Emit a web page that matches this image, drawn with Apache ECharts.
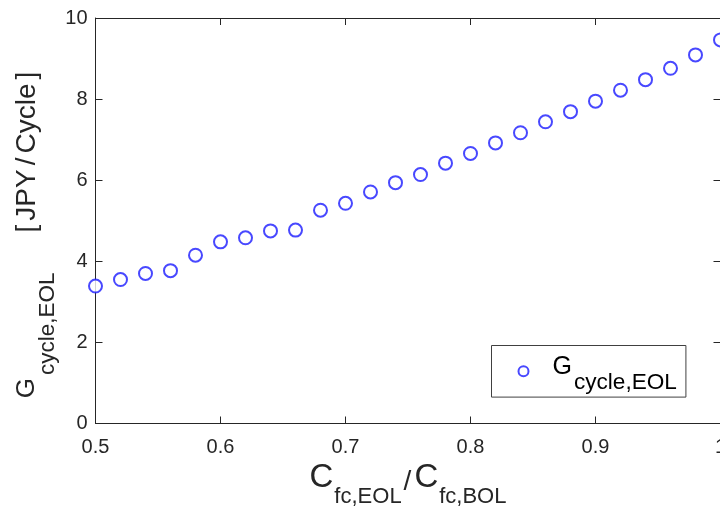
<!DOCTYPE html>
<html>
<head>
<meta charset="utf-8">
<script src="https://cdn.jsdelivr.net/npm/echarts@6/dist/echarts.min.js"></script>
<style>html,body{margin:0;padding:0;background:#fff;}#c{width:720px;height:506px;}</style>
</head>
<body>
<div id="c"></div>
<script>
// ---- data ----
var ratioValues = [0.50, 0.52, 0.54, 0.56, 0.58, 0.60, 0.62, 0.64, 0.66, 0.68, 0.70, 0.72, 0.74,
                   0.76, 0.78, 0.80, 0.82, 0.84, 0.86, 0.88, 0.90, 0.92, 0.94, 0.96, 0.98, 1.00];
var gCycleEOL = [3.39, 3.55, 3.70, 3.77, 4.15, 4.48, 4.58, 4.75, 4.77, 5.26, 5.43, 5.71, 5.94,
                 6.14, 6.42, 6.66, 6.92, 7.17, 7.44, 7.69, 7.95, 8.22, 8.48, 8.76, 9.09, 9.46];
var xTickLabels = ['0.5', '0.6', '0.7', '0.8', '0.9', '1'];
var yTickLabels = ['0', '2', '4', '6', '8', '10'];
var seriesName = 'G_cycle,EOL';

var FONT = 'Liberation Sans, Arial, sans-serif';
var INK = '#262626';

var points = ratioValues.map(function (x, i) { return [x, gCycleEOL[i]]; });

var chart = echarts.init(document.getElementById('c'), null, {renderer: 'canvas'});

function axisCommon(extra) {
  var base = {
    axisLine: {show: true, onZero: false, lineStyle: {color: INK, width: 1}},
    axisTick: {show: true, inside: true, length: 7, lineStyle: {color: INK, width: 1}},
    splitLine: {show: false},
    axisLabel: {show: false}
  };
  for (var k in extra) base[k] = extra[k];
  return base;
}

var option = {
  backgroundColor: '#ffffff',
  animation: false,
  grid: {left: 95.5, right: -0.5, top: 18, bottom: 82.5, containLabel: false, outerBoundsMode: 'none'},
  xAxis: [
    axisCommon({type: 'value', position: 'bottom', min: 0.5, max: 1.0, interval: 0.1,
      axisLabel: {show: true, margin: 14, color: INK, fontSize: 20, fontFamily: FONT,
        formatter: function (v) { var i = Math.round((v - 0.5) / 0.1); return xTickLabels[i]; }}}),
    axisCommon({type: 'value', position: 'top', min: 0.5, max: 1.0, interval: 0.1})
  ],
  yAxis: [
    axisCommon({type: 'value', position: 'left', min: 0, max: 10, interval: 2,
      axisLabel: {show: true, margin: 8, color: INK, fontSize: 20, fontFamily: FONT,
        formatter: function (v) { return yTickLabels[Math.round(v / 2)]; }}}),
    axisCommon({type: 'value', position: 'right', min: 0, max: 10, interval: 2})
  ],
  legend: {
    show: true,
    left: 491.5, top: 345.5,
    orient: 'vertical',
    backgroundColor: '#ffffff',
    borderColor: '#404040', borderWidth: 1, borderRadius: 0,
    padding: [0, 9, 0, 26],
    itemWidth: 10, itemHeight: 10,
    icon: 'emptyCircle',
    data: [{name: seriesName, icon: 'emptyCircle'}],
    formatter: function () { return '{g|G}{s|cycle,EOL}'; },
    textStyle: {
      color: '#000',
      fontFamily: FONT,
      lineHeight: 51.6,
      rich: {
        g: {fontSize: 25, lineHeight: 51.6, fontFamily: FONT, color: '#000', padding: [0, 0, 9, 19]},
        s: {fontSize: 22.6, lineHeight: 51.6, fontFamily: FONT, color: '#000', padding: [23, 0, 0, 2]}
      }
    }
  },
  series: [{
    name: seriesName,
    type: 'scatter',
    xAxisIndex: 0, yAxisIndex: 0,
    symbol: 'emptyCircle',
    symbolSize: 13,
    itemStyle: {color: '#1a1aff', borderColor: '#1a1aff', borderWidth: 1},
    emphasis: {disabled: true},
    data: points,
    clip: false
  }],
  graphic: [
    {
      type: 'text', x: 408, y: 489,
      style: {
        text: '{c|C}{s|fc,EOL}{sl|/}{c|C}{s|fc,BOL}',
        textAlign: 'center', verticalAlign: 'middle',
        fill: INK, fontFamily: FONT,
        rich: {
          c: {fontSize: 33, fontFamily: FONT, fill: INK, padding: [0, 0, 22, 0]},
          s: {fontSize: 22, fontFamily: FONT, fill: INK, padding: [16, 0, 0, 1]},
          sl: {fontSize: 28, fontFamily: FONT, fill: INK, padding: [0, 3, 14, 2]}
        }
      }
    },
    {
      type: 'text', x: 37.5, y: 235, rotation: Math.PI / 2,
      style: {
        text: '{g|G}{s|cycle,EOL}{b1|[}{n|JPY}{n|/}{n|Cycle}{n|]}',
        textAlign: 'center', verticalAlign: 'middle',
        fill: INK, fontFamily: FONT,
        rich: {
          g: {fontSize: 26, fontFamily: FONT, fill: INK, padding: [0, 0, 21, 0]},
          s: {fontSize: 22.5, fontFamily: FONT, fill: INK, padding: [21, 0, 0, 3]},
          b1: {fontSize: 28, fontFamily: FONT, fill: INK, padding: [0, 0, 21, 40]},
          n: {fontSize: 28, fontFamily: FONT, fill: INK, padding: [0, 0, 21, 4]}
        }
      }
    }
  ]
};
chart.setOption(option);
</script>
</body>
</html>
